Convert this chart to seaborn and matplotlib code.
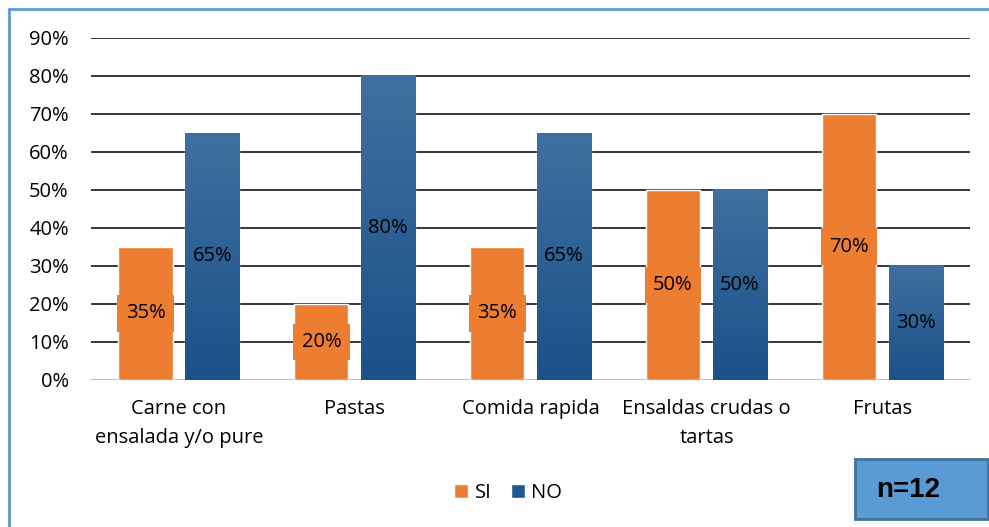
import numpy as np
import pandas as pd
import matplotlib
matplotlib.use("Agg")
import matplotlib.pyplot as plt
import seaborn as sns
from matplotlib.patches import Rectangle
from matplotlib.lines import Line2D

categories = ["Carne con\nensalada y/o pure", "Pastas", "Comida rapida",
              "Ensaldas crudas o\ntartas", "Frutas"]
si_values = [0.35, 0.20, 0.35, 0.50, 0.70]
no_values = [0.65, 0.80, 0.65, 0.50, 0.30]
series = ["SI", "NO"]
y_ticks = [0.0, 0.1, 0.2, 0.3, 0.4, 0.5, 0.6, 0.7, 0.8, 0.9]

ORANGE = "#ED7D31"
BLUE = "#1F5A94"
FS = 14.5

df = pd.DataFrame({
    "cat": categories * 2,
    "serie": ["SI"] * 5 + ["NO"] * 5,
    "val": si_values + no_values,
})

sns.set_style("white")
plt.rcParams["font.family"] = ["Open Sans", "DejaVu Sans"]
plt.rcParams["text.color"] = "black"
plt.rcParams["xtick.labelcolor"] = "black"
plt.rcParams["ytick.labelcolor"] = "black"

fig = plt.figure(figsize=(9.89, 5.27), dpi=100)
ax = fig.add_axes([0.092, 0.279, 0.889, 0.649])

sns.barplot(data=df, x="cat", y="val", hue="serie", hue_order=series,
            palette=[ORANGE, BLUE], width=0.76, gap=0.19, ax=ax,
            legend=False, saturation=1, zorder=3)

# gradient on the blue bars
grad = np.linspace(0, 1, 256).reshape(-1, 1)
cmap = matplotlib.colors.LinearSegmentedColormap.from_list(
    "g", ["#1A5189", "#40709F"])
for p in ax.patches:
    if p.get_facecolor()[2] > 0.5:
        x0, w, h = p.get_x(), p.get_width(), p.get_height()
        im = ax.imshow(grad, cmap=cmap, extent=[x0, x0 + w, 0, h],
                       aspect="auto", origin="lower", zorder=3.1)
        im.set_clip_path(p)

ax.set_xlim(-0.5, 4.5)
ax.set_ylim(0, 0.9)
ax.set_yticks(y_ticks)
ax.set_yticklabels([f"{int(round(t * 100))}%" for t in y_ticks], fontsize=FS)
ax.tick_params(axis="y", length=0, pad=16, labelcolor="black")
ax.tick_params(axis="x", length=0, pad=14, labelsize=FS, labelcolor="black")
ax.set_xlabel("")
ax.set_ylabel("")
for t in ax.get_xticklabels():
    t.set_linespacing(1.55)

for s in ax.spines.values():
    s.set_visible(False)
for t in y_ticks[1:]:
    ax.axhline(t, color="black", lw=1.1, zorder=1)
ax.axhline(0, color="#BFBFBF", lw=1.5, zorder=1)

# data labels
for i in range(len(categories)):
    ax.text(i - 0.19, si_values[i] / 2, f"{int(round(si_values[i] * 100))}%",
            ha="center", va="center", fontsize=FS, zorder=5, color="black",
            bbox=dict(boxstyle="square,pad=0.42", fc=ORANGE, ec="none"))
    ax.text(i + 0.19, no_values[i] / 2, f"{int(round(no_values[i] * 100))}%",
            ha="center", va="center", fontsize=FS, zorder=5, color="black")

handles = [Rectangle((0, 0), 1, 1, fc=ORANGE), Rectangle((0, 0), 1, 1, fc=BLUE)]
fig.legend(handles, series, loc="center", bbox_to_anchor=(0.514, 0.064),
           ncol=2, frameon=False, fontsize=FS, handlelength=0.7,
           handleheight=0.7, handletextpad=0.3, columnspacing=1.0,
           labelcolor="black")

# n=12 box
fig.patches.append(Rectangle((855 / 989, 1 - 519 / 527), 133 / 989, 60 / 527,
                             transform=fig.transFigure, fc="#5B9BD5",
                             ec="#41719C", lw=2))
fig.text(908 / 989, 1 - 490 / 527, "n=12", ha="center", va="center",
         fontsize=20, fontweight="bold", family="Liberation Sans",
         color="black")

# outer chart border
fig.lines.append(Line2D([9 / 989, 9 / 989], [0, 1 - 9 / 527],
                        transform=fig.transFigure, color="#5B9BD5", lw=2))
fig.lines.append(Line2D([9 / 989, 1], [1 - 9 / 527, 1 - 9 / 527],
                        transform=fig.transFigure, color="#5B9BD5", lw=2))

fig.savefig("out.png", dpi=100)
